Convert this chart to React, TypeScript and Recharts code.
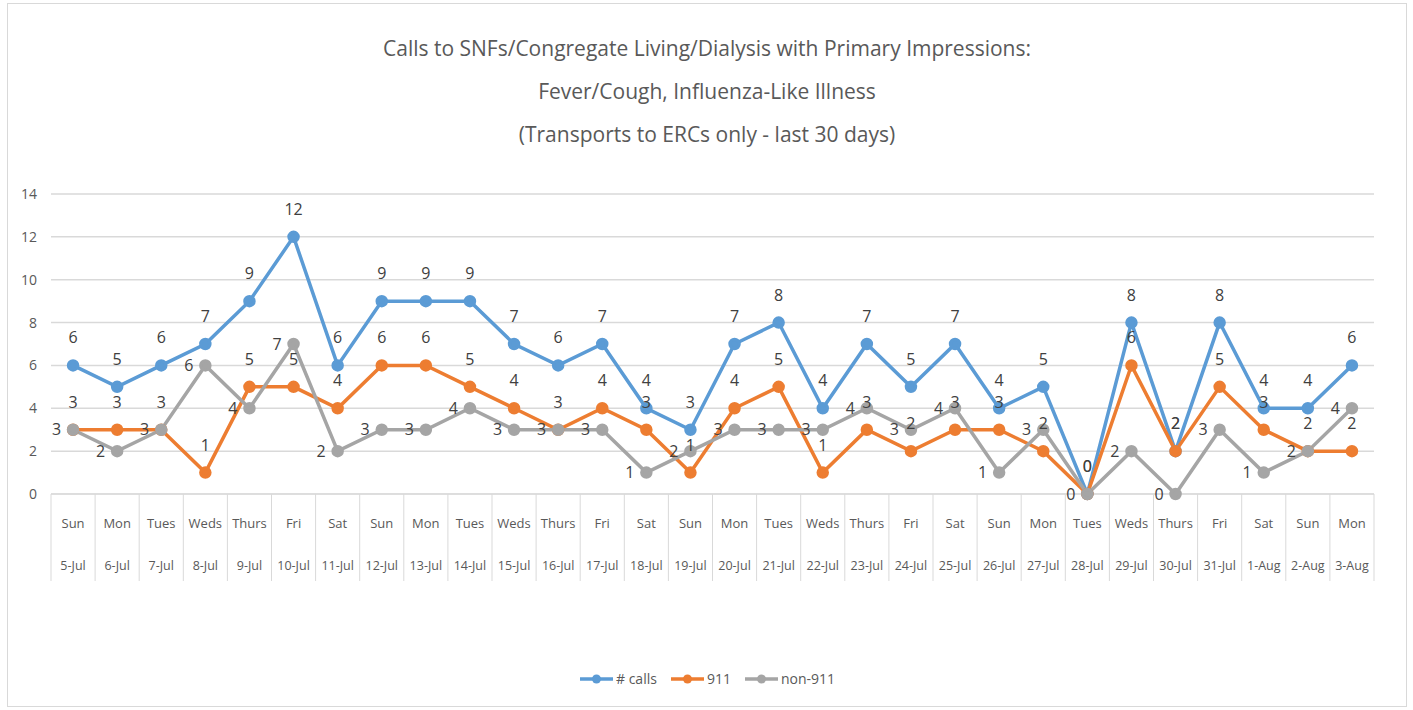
import React from "react";
import { CartesianGrid, LabelList, Legend, Line, LineChart, XAxis, YAxis } from "recharts";

const days = ["Sun", "Mon", "Tues", "Weds", "Thurs", "Fri", "Sat", "Sun", "Mon", "Tues", "Weds", "Thurs", "Fri", "Sat", "Sun", "Mon", "Tues", "Weds", "Thurs", "Fri", "Sat", "Sun", "Mon", "Tues", "Weds", "Thurs", "Fri", "Sat", "Sun", "Mon"];
const dates = ["5-Jul", "6-Jul", "7-Jul", "8-Jul", "9-Jul", "10-Jul", "11-Jul", "12-Jul", "13-Jul", "14-Jul", "15-Jul", "16-Jul", "17-Jul", "18-Jul", "19-Jul", "20-Jul", "21-Jul", "22-Jul", "23-Jul", "24-Jul", "25-Jul", "26-Jul", "27-Jul", "28-Jul", "29-Jul", "30-Jul", "31-Jul", "1-Aug", "2-Aug", "3-Aug"];
const calls = [6, 5, 6, 7, 9, 12, 6, 9, 9, 9, 7, 6, 7, 4, 3, 7, 8, 4, 7, 5, 7, 4, 5, 0, 8, 2, 8, 4, 4, 6];
const calls911 = [3, 3, 3, 1, 5, 5, 4, 6, 6, 5, 4, 3, 4, 3, 1, 4, 5, 1, 3, 2, 3, 3, 2, 0, 6, 2, 5, 3, 2, 2];
const non911 = [3, 2, 3, 6, 4, 7, 2, 3, 3, 4, 3, 3, 3, 1, 2, 3, 3, 3, 4, 3, 4, 1, 3, 0, 2, 0, 3, 1, 2, 4];
const yTicks = [0, 2, 4, 6, 8, 10, 12, 14];

const data = dates.map((date, i) => ({
  date,
  day: days[i],
  calls: calls[i],
  e911: calls911[i],
  non911: non911[i],
}));

const FONT = "'Open Sans', sans-serif";
const TEXT = "#595959";
const GRID = "#d9d9d9";
const W = 1398;
const H = 702;
const MARGIN = { top: 190, right: 32, left: 8, bottom: 106 };
const Y_WIDTH = 35;
const AXIS_H = 87;
const BAND = (W - MARGIN.left - MARGIN.right - Y_WIDTH) / data.length;

const series = [
  { key: "calls", name: "# calls", color: "#5b9bd5", pos: "top" },
  { key: "e911", name: "911", color: "#ed7d31", pos: "top" },
  { key: "non911", name: "non-911", color: "#a5a5a5", pos: "left" },
];

// two-row category axis: weekday on top, date below, boxed by separators
function TwoRowTick({ x, y, payload, index }: any) {
  const half = BAND / 2;
  return (
    <g fontFamily={FONT} fill={TEXT}>
      <line x1={x - half} x2={x - half} y1={y} y2={y + AXIS_H} stroke={GRID} />
      {index === data.length - 1 && (
        <line x1={x + half} x2={x + half} y1={y} y2={y + AXIS_H} stroke={GRID} />
      )}
      <text x={x} y={y + 34} textAnchor="middle" fontSize={13}>
        {data[index].day}
      </text>
      <text x={x} y={y + 76} textAnchor="middle" fontSize={12.5}>
        {payload.value}
      </text>
    </g>
  );
}

function LegendBox() {
  return (
    <div style={{ display: "flex", justifyContent: "center", gap: 13, fontFamily: FONT, fontSize: 14, color: TEXT }}>
      {series.map((s) => (
        <div key={s.key} style={{ display: "flex", alignItems: "center" }}>
          <svg width={35} height={12}>
            <line x1={1} x2={34} y1={6} y2={6} stroke={s.color} strokeWidth={3.5} />
            <circle cx={17.5} cy={6} r={4.5} fill={s.color} />
          </svg>
          <span style={{ marginLeft: 2 }}>{s.name}</span>
        </div>
      ))}
    </div>
  );
}

export default function App() {
  return (
    <div
      style={{
        position: "absolute",
        left: 7,
        top: 3,
        width: W,
        height: H,
        border: `1px solid ${GRID}`,
        background: "#fff",
      }}
    >
      <div
        style={{
          position: "absolute",
          top: 23,
          left: 0,
          width: W,
          textAlign: "center",
          fontFamily: FONT,
          fontSize: 21,
          lineHeight: "43px",
          color: TEXT,
        }}
      >
        Calls to SNFs/Congregate Living/Dialysis with Primary Impressions:
        <br />
        Fever/Cough, Influenza-Like Illness
        <br />
        (Transports to ERCs only - last 30 days)
      </div>
      <LineChart width={W} height={H} data={data} margin={MARGIN}>
        <CartesianGrid vertical={false} stroke={GRID} strokeWidth={1.5} />
        <XAxis
          dataKey="date"
          scale="band"
          interval={0}
          axisLine={{ stroke: GRID }}
          tickLine={false}
          tickSize={0}
          tickMargin={0}
          height={AXIS_H}
          tick={<TwoRowTick />}
        />
        <YAxis
          width={Y_WIDTH}
          domain={[0, 14]}
          ticks={yTicks}
          axisLine={false}
          tickLine={false}
          tickSize={0}
          tickMargin={14}
          tick={{ fill: TEXT, fontSize: 14, fontFamily: FONT }}
        />
        <Legend
          verticalAlign="bottom"
          content={<LegendBox />}
          wrapperStyle={{ top: 665, left: 0, width: W }}
        />
        {series.map((s) => (
          <Line
            key={s.key}
            dataKey={s.key}
            name={s.name}
            stroke={s.color}
            strokeWidth={3.5}
            dot={{ r: 4.5, fill: s.color, stroke: s.color }}
            activeDot={false}
            isAnimationActive={false}
          >
            <LabelList
              dataKey={s.key}
              position={s.pos as any}
              offset={s.pos === "top" ? 22 : 12}
              fill="#404040"
              fontSize={16}
              fontFamily={FONT}
            />
          </Line>
        ))}
      </LineChart>
    </div>
  );
}
